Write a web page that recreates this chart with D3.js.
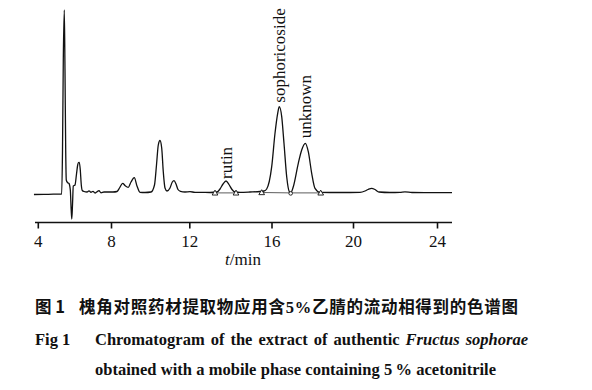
<!DOCTYPE html>
<html>
<head>
<meta charset="utf-8">
<script src="https://cdn.jsdelivr.net/npm/d3@7"></script>
<style>
  html, body { margin: 0; padding: 0; background: #fff; }
  svg { display: block; }
</style>
</head>
<body>
<div id="chart"></div>
<script>
// chromatogram trace (time in min, detector signal in arbitrary units)
var traceTime = [3.79, 4.574, 5.284, 5.306, 5.350, 5.393, 5.448, 5.486, 5.525, 5.557, 5.623, 5.705, 5.776, 5.825, 5.858, 5.896, 5.940,
  6.033, 6.115, 6.180, 6.224, 6.268, 6.322, 6.377, 6.432, 6.525, 6.689, 6.798, 6.907, 7.016, 7.126, 7.235, 7.344, 7.454, 7.617,
  7.836, 8.102, 8.307, 8.434, 8.598, 8.715, 8.884, 9.022, 9.190, 9.328, 9.481, 9.737, 10.043, 10.222, 10.324, 10.416, 10.503, 10.590,
  10.672, 10.759, 10.861, 11.014, 11.132, 11.219, 11.321, 11.423, 11.550, 11.780, 12.034, 12.277, 12.521, 13.007, 13.348, 13.494,
  13.640, 13.786, 13.932, 14.078, 14.224, 14.467, 14.954, 15.440, 15.635, 15.766, 16.010, 16.172, 16.304, 16.383, 16.501, 16.613,
  16.746, 16.874, 16.942, 17.070, 17.315, 17.482, 17.659, 17.806, 17.973, 18.135, 18.380, 19.362, 20.333, 20.571, 20.714, 20.890,
  21.048, 21.238, 21.762, 22.238, 22.476, 22.810, 23.667, 24.714];
var traceSignal = [0, 0.2, 0.5, 0.5, 44, 134, 184.5, 124, 44, 14.5, 12, 11, 4.5, -15.5, -24.5, -10.5, 8.5,
  9.5, 20.5, 29.5, 32, 32.2, 24.5, 9.5, 4, 3, 2.5, 3.7, 2.2, 3.2, 1.5, 2.7, 3.8, 1.7, 2.5,
  2.5, 2.5, 3, 6.5, 11.2, 9, 7.2, 12.5, 16.8, 8.5, 2.2, 2, 2.5, 9.5, 29.5, 49.5, 54, 46.5,
  22.5, 6.5, 3.5, 6.5, 12.5, 13.8, 10.5, 5, 3.2, 2.5, 2.8, 2.2, 2.2, 2, 2.5, 5.5,
  10.5, 13.5, 10, 5, 2.5, 2.2, 2.5, 3, 3.5, 5.5, 27.8, 61.2, 81.2, 87.8, 77.8, 51.2,
  17.8, 2.8, 1.8, 7.8, 31.2, 44.5, 51.2, 42.8, 21.2, 6.2, 2.2, 2, 2.2, 3.5, 5, 6.2,
  5, 2.5, 2, 2.2, 2.6, 2, 1.9, 1.8];

// labelled peaks
var peakNames = ["rutin", "sophoricoside", "unknown"];
var peakTimes = [13.786, 16.383, 17.659];
var peakTops = [13.5, 87.8, 51.2];

// integration marks (start / end of peaks)
var markTimes = [13.251, 14.273, 15.523, 16.942, 18.415];
var markSignal = [1.6, 1.6, 2.0, 1.6, 1.6];
var markTypes = ["tri", "tri", "tri", "dot", "tri"];

var xTicks = [4, 8, 12, 16, 20, 24];
// the printed time axis is slightly uneven, so tick pixel positions are mapped piecewise
var xTickPos = [37.8, 111, 189.3, 271.5, 353, 437];

var width = 592, height = 390;
var serif = "'Liberation Serif', 'Times New Roman', serif";
var cjk = "'Noto Sans CJK SC', sans-serif";

var svg = d3.select("#chart").append("svg")
  .attr("width", width)
  .attr("height", height);

svg.append("rect").attr("width", width).attr("height", height).attr("fill", "#fff");

var x = d3.scaleLinear().domain(xTicks).range(xTickPos);
var y = d3.scaleLinear().domain([0, 190]).range([194.5, 4.5]);
var axisY = 222.5;

// trace
var pts = traceTime.map(function(t, i) { return [t, traceSignal[i]]; });
var line = d3.line()
  .x(function(d) { return x(d[0]); })
  .y(function(d) { return y(d[1]); })
  .curve(d3.curveMonotoneX);

svg.append("path")
  .datum(pts)
  .attr("d", line)
  .attr("fill", "none")
  .attr("stroke", "#111")
  .attr("stroke-width", 1.3)
  .attr("stroke-linejoin", "round");

// baselines drawn by the integrator
var segs = [[0, 1], [2, 3], [3, 4]];
svg.selectAll("line.base").data(segs).enter().append("line")
  .attr("class", "base")
  .attr("x1", function(d) { return x(markTimes[d[0]]); })
  .attr("y1", function(d) { return y(markSignal[d[0]]); })
  .attr("x2", function(d) { return x(markTimes[d[1]]); })
  .attr("y2", function(d) { return y(markSignal[d[1]]); })
  .attr("stroke", "#333")
  .attr("stroke-width", 0.8);

var tri = d3.symbol().type(d3.symbolTriangle).size(14);
var dot = d3.symbol().type(d3.symbolCircle).size(10);
svg.selectAll("path.mark").data(markTimes).enter().append("path")
  .attr("class", "mark")
  .attr("d", function(d, i) { return markTypes[i] == "tri" ? tri() : dot(); })
  .attr("transform", function(d, i) { return "translate(" + x(d) + "," + (y(markSignal[i]) + 0.5) + ")"; })
  .attr("fill", "#fff")
  .attr("stroke", "#111")
  .attr("stroke-width", 0.9);

// peak names
var gaps = [2, 4, 5];
svg.selectAll("text.peak").data(peakNames).enter().append("text")
  .attr("class", "peak")
  .attr("transform", function(d, i) {
    return "translate(" + (x(peakTimes[i]) + 6) + "," + (y(peakTops[i]) - gaps[i]) + ") rotate(-90)";
  })
  .attr("font-family", serif)
  .attr("font-size", 17)
  .attr("fill", "#111")
  .text(function(d) { return d; });

// x axis
var axis = svg.append("g")
  .attr("transform", "translate(0," + axisY + ")")
  .call(d3.axisBottom(x).tickValues(xTicks).tickSize(6).tickSizeOuter(0).tickPadding(6).tickFormat(d3.format("d")));
axis.select(".domain").attr("d", "M35,0H452").attr("stroke", "#111").attr("stroke-width", 1.6);
axis.selectAll(".tick line").attr("stroke", "#111").attr("stroke-width", 1.6);
axis.selectAll(".tick text")
  .attr("font-family", serif)
  .attr("font-size", 17)
  .attr("fill", "#111");

var xl = svg.append("text")
  .attr("x", 243).attr("y", 265)
  .attr("text-anchor", "middle")
  .attr("font-family", serif)
  .attr("font-size", 17)
  .attr("fill", "#111");
xl.append("tspan").attr("font-style", "italic").text("t");
xl.append("tspan").text("/min");

// captions
function spread(sel, target, byWord) {
  var node = sel.node();
  var w = node.getComputedTextLength();
  var txt = node.textContent;
  if (byWord) {
    var n = (txt.match(/ /g) || []).length;
    if (n) sel.attr("word-spacing", (target - w) / n);
  } else {
    sel.attr("letter-spacing", (target - w) / (txt.length - 1));
  }
}

svg.append("text")
  .attr("x", 35).attr("y", 313)
  .attr("font-family", cjk).attr("font-weight", 700).attr("font-size", 16.5)
  .attr("fill", "#111")
  .text("图 1");

var c1 = svg.append("text")
  .attr("x", 79).attr("y", 313)
  .attr("font-family", cjk).attr("font-weight", 700).attr("font-size", 16.5)
  .attr("fill", "#111");
c1.append("tspan").text("槐角对照药材提取物应用含");
c1.append("tspan").attr("font-family", serif).text("5%");
c1.append("tspan").text("乙腈的流动相得到的色谱图");
spread(c1, 439, false);

svg.append("text")
  .attr("x", 35).attr("y", 345)
  .attr("font-family", serif).attr("font-weight", 700).attr("font-size", 16.5)
  .attr("fill", "#111")
  .text("Fig 1");

var c2 = svg.append("text")
  .attr("x", 95).attr("y", 345)
  .attr("font-family", serif).attr("font-weight", 700).attr("font-size", 16.5)
  .attr("fill", "#111");
c2.append("tspan").text("Chromatogram of the extract of authentic ");
c2.append("tspan").attr("font-style", "italic").text("Fructus sophorae");
spread(c2, 433, true);

var c3 = svg.append("text")
  .attr("x", 95).attr("y", 375)
  .attr("font-family", serif).attr("font-weight", 700).attr("font-size", 16.5)
  .attr("fill", "#111")
  .text("obtained with a mobile phase containing 5\u2009% acetonitrile");
spread(c3, 401, true);
</script>
</body>
</html>
